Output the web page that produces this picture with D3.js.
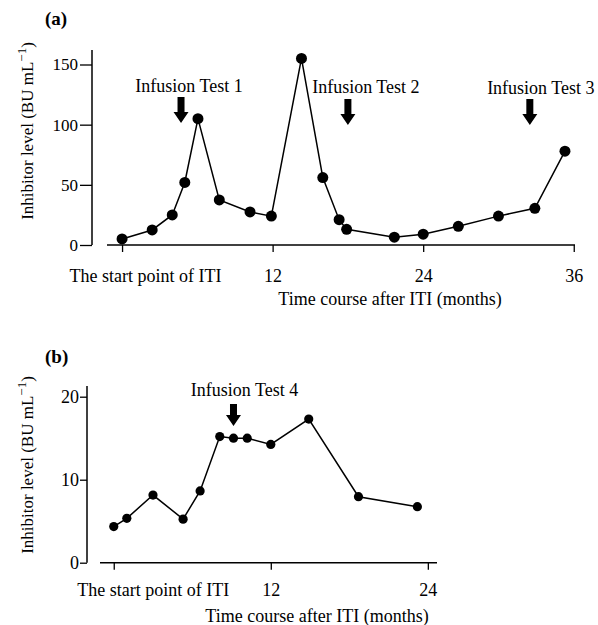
<!DOCTYPE html>
<html>
<head>
<meta charset="utf-8">
<script src="https://cdn.jsdelivr.net/npm/d3@7"></script>
<style>
  body { margin: 0; background: #fff; }
  svg text { font-family: "Liberation Serif", "Times New Roman", serif; fill: #000; }
</style>
</head>
<body>
<svg id="chart" width="598" height="625"></svg>
<script>
// panel (a) data: months after start of ITI, inhibitor level (BU/mL)
var monthsA = [0, 2.4, 4.0, 5.0, 6.05, 7.75, 10.2, 11.9, 14.3, 16.0, 17.3, 17.9, 21.7, 24.0, 26.8, 30.0, 32.9, 35.3];
var levelsA = [5, 12.5, 25, 52, 105, 37.5, 27.5, 24, 155, 56, 21, 13, 6.5, 9, 15.5, 24, 30.5, 78];
var testsA = ["Infusion Test 1", "Infusion Test 2", "Infusion Test 3"];
var testMonthsA = [4.7, 18.0, 32.5];
var xTicksA = [0, 12, 24, 36];
var yTicksA = [0, 50, 100, 150];

// panel (b) data
var monthsB = [0, 1.0, 3.0, 5.3, 6.6, 8.1, 9.15, 10.2, 12.0, 14.9, 18.7, 23.2];
var levelsB = [4.35, 5.35, 8.15, 5.25, 8.65, 15.2, 15.0, 15.0, 14.25, 17.3, 7.95, 6.75];
var testsB = ["Infusion Test 4"];
var testMonthsB = [9.15];
var xTicksB = [0, 12, 24];
var yTicksB = [0, 10, 20];

var startLabel = "The start point of ITI";
var xTitle = "Time course after ITI (months)";

var svg = d3.select("#chart");

function drawPanel(opt) {
    var g = svg.append("g");
    var x = d3.scaleLinear().domain(opt.xDomain).range(opt.xRange);
    var y = d3.scaleLinear().domain(opt.yDomain).range(opt.yRange);

    // x axis
    var xAxis = d3.axisBottom(x)
        .tickValues(opt.xTicks)
        .tickSize(7)
        .tickFormat(function (d) { return d === 0 ? startLabel : d; });
    var gx = g.append("g")
        .attr("transform", "translate(0," + y(0) + ")")
        .call(xAxis);
    gx.select(".domain").remove();
    gx.append("line")
        .attr("x1", x(opt.xDomain[0])).attr("x2", x(opt.xDomain[1]))
        .attr("stroke", "#000").attr("stroke-width", 1.5);
    gx.selectAll(".tick line").attr("stroke-width", 1.3);
    gx.selectAll(".tick text")
        .attr("font-size", 18)
        .attr("y", opt.tickLabelDy)
        .attr("dx", function (d) { return d === 0 ? opt.startDx : 0; });

    // y axis
    var yAxis = d3.axisLeft(y)
        .tickValues(opt.yTicks)
        .tickSize(opt.yTickSize)
        .tickPadding(opt.yTickPad);
    var gy = g.append("g")
        .attr("transform", "translate(" + opt.yAxisX + ",0)")
        .call(yAxis);
    gy.select(".domain").remove();
    gy.append("line")
        .attr("y1", y(0)).attr("y2", y(opt.yTop))
        .attr("stroke", "#000").attr("stroke-width", 1.5);
    gy.selectAll(".tick line").attr("stroke-width", 1.3);
    gy.selectAll(".tick text").attr("font-size", opt.yTickFont);

    // panel label
    g.append("text")
        .attr("x", 45).attr("y", opt.panelY)
        .attr("font-size", 19).attr("font-weight", "bold")
        .text(opt.panel);

    // y title
    var yt = g.append("text")
        .attr("transform", "translate(33," + opt.yTitleY + ") rotate(-90)")
        .attr("text-anchor", "middle")
        .attr("font-size", 17);
    yt.append("tspan").text("Inhibitor level (BU mL");
    yt.append("tspan").attr("dy", -7).attr("font-size", 13).text("\u22121");
    yt.append("tspan").attr("dy", 7).text(")");

    // x title
    g.append("text")
        .attr("x", opt.xTitleX).attr("y", opt.xTitleY)
        .attr("text-anchor", "middle")
        .attr("font-size", 18)
        .text(xTitle);

    // line and points
    var pts = opt.months.map(function (m, i) { return [m, opt.levels[i]]; });
    g.append("path")
        .datum(pts)
        .attr("fill", "none")
        .attr("stroke", "#000")
        .attr("stroke-width", 1.5)
        .attr("d", d3.line()
            .x(function (d) { return x(d[0]); })
            .y(function (d) { return y(d[1]); }));
    g.selectAll("circle")
        .data(pts)
        .enter().append("circle")
        .attr("cx", function (d) { return x(d[0]); })
        .attr("cy", function (d) { return y(d[1]); })
        .attr("r", opt.r)
        .attr("fill", "#000");

    // infusion test arrows
    opt.tests.forEach(function (t, i) {
        var ax = x(opt.testMonths[i]);
        var top = opt.arrowTop[i], tip = top + opt.arrowLen;
        var hh = 11;
        g.append("path")
            .attr("d", "M" + (ax - 3.5) + "," + top + "L" + (ax + 3.5) + "," + top +
                "L" + (ax + 3.5) + "," + (tip - hh) + "L" + (ax + 7.5) + "," + (tip - hh) +
                "L" + ax + "," + tip + "L" + (ax - 7.5) + "," + (tip - hh) +
                "L" + (ax - 3.5) + "," + (tip - hh) + "Z")
            .attr("fill", "#000");
        g.append("text")
            .attr("x", ax + opt.labelDx[i]).attr("y", opt.labelY[i])
            .attr("text-anchor", "middle")
            .attr("font-size", 18)
            .text(t);
    });
}

drawPanel({
    panel: "(a)", panelY: 25,
    months: monthsA, levels: levelsA,
    tests: testsA, testMonths: testMonthsA,
    arrowTop: [97, 99, 99], arrowLen: 26, labelY: [92, 93, 94], labelDx: [8, 18, 11],
    xTicks: xTicksA, yTicks: yTicksA,
    xDomain: [-1.2, 36.1], xRange: [107, 575],
    yDomain: [0, 150], yRange: [245, 64.5], yTop: 162, yAxisX: 92,
    yTickSize: 12, yTickPad: 2, yTickFont: 17,
    tickLabelDy: 24, startDx: 23,
    yTitleY: 131, xTitleX: 390, xTitleY: 305, r: 5.5
});

drawPanel({
    panel: "(b)", panelY: 363,
    months: monthsB, levels: levelsB,
    tests: testsB, testMonths: testMonthsB,
    arrowTop: [404], arrowLen: 22, labelY: [396], labelDx: [11],
    xTicks: xTicksB, yTicks: yTicksB,
    xDomain: [-1.05, 24.7], xRange: [100, 437],
    yDomain: [0, 20], yRange: [562.7, 396.7], yTop: 21.3, yAxisX: 87,
    yTickSize: 7, yTickPad: 1, yTickFont: 18,
    tickLabelDy: 21, startDx: 39,
    yTitleY: 465, xTitleX: 317, xTitleY: 622, r: 4.6
});
</script>
</body>
</html>
